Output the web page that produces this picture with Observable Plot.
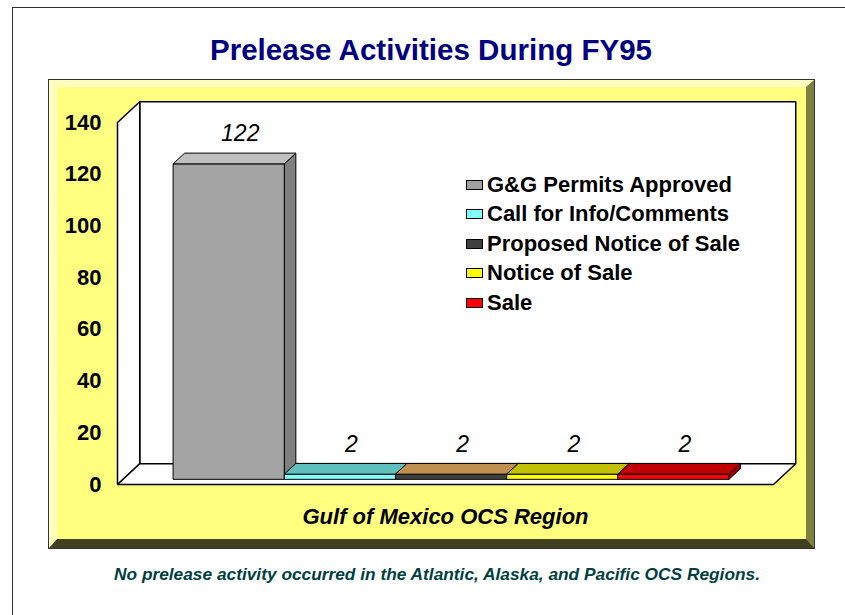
<!DOCTYPE html>
<html>
<head>
<meta charset="utf-8">
<script src="https://cdn.jsdelivr.net/npm/d3@7"></script>
<script src="https://cdn.jsdelivr.net/npm/@observablehq/plot@0.6"></script>
<style>
  html, body { margin: 0; padding: 0; background: #fff; }
  #page { position: relative; width: 845px; height: 615px; overflow: hidden; background: #fff;
          font-family: "Liberation Sans", Arial, sans-serif; }
  #slide { position: absolute; left: 12px; top: 7px; width: 900px; height: 700px; border: 1px solid #333; box-sizing: border-box; }
  #frame { position: absolute; left: 49px; top: 80px; width: 765px; height: 468px; box-sizing: border-box;
           background: #FFFF80; border-top: 7px solid #FFFFC0; border-left: 8px solid #FFFFC0;
           border-right: 8px solid #808040; border-bottom: 9px solid #404020; outline: 1px solid #333; }
  #titles { position: absolute; left: 0; top: 0; }
  #chart { position: absolute; left: 0; top: 0; }
  #legend { position: absolute; left: 466px; top: 170px; }
  .row { height: 29.5px; display: flex; align-items: center; font-weight: bold; font-size: 22px; color: #000; white-space: nowrap; }
  .sw { width: 15px; height: 8px; border: 1px solid #000; margin-right: 4px; }
</style>
</head>
<body>
<div id="page">
  <div id="slide"></div>
  <div id="frame"></div>
  <svg id="titles" width="845" height="615"></svg>
  <div id="chart"></div>
  <div id="legend"></div>
</div>
<script>
// ---- data ----
const categories = ["G&G Permits Approved", "Call for Info/Comments", "Proposed Notice of Sale", "Notice of Sale", "Sale"];
const values = [122, 2, 2, 2, 2];
const yTicks = [0, 20, 40, 60, 80, 100, 120, 140];
const regionLabel = "Gulf of Mexico OCS Region";
const titleText = "Prelease Activities During FY95";
const captionText = "No prelease activity occurred in the Atlantic, Alaska, and Pacific OCS Regions.";

// ---- styles ----
const frontColors = ["#A4A4A4", "#80FFFF", "#404040", "#FFFF00", "#FF0000"];
const topColors   = ["#C0C0C0", "#60C0C0", "#C09050", "#C0C000", "#C00000"];
const sideColors  = ["#808080", "#40A0A0", "#303030", "#A0A000", "#A00000"];
const legendColors = ["#A0A0A0", "#80FFFF", "#404040", "#FFFF00", "#FF0000"];
const FONT = '"Liberation Sans", Arial, sans-serif';

// 3-D box geometry in data units
const X0 = -0.45, X1 = categories.length + 0.45, YMAX = 140;
const DX = 0.2, DY = 8;        // full depth offset
const D0 = 0.25, D1 = 0.77;    // bar depth band

function pt(face, fill, x, y, d) { return {face, fill, x: x + d * DX, y: y + d * DY}; }
function poly(face, fill, pts) {
  const out = pts.map(([x, y, d]) => pt(face, fill, x, y, d));
  out.push({...out[0]});
  return out;
}

const walls = [
  ...poly("back", "#FFFFFF", [[X0, 0, 1], [X1, 0, 1], [X1, YMAX, 1], [X0, YMAX, 1]]),
  ...poly("left", "#FFFFFF", [[X0, 0, 0], [X0, YMAX, 0], [X0, YMAX, 1], [X0, 0, 1]]),
  ...poly("floor", "#FFFFFF", [[X0, 0, 0], [X1, 0, 0], [X1, 0, 1], [X0, 0, 1]])
];

const barFaces = [];
values.forEach((v, i) => {
  barFaces.push(...poly("side" + i, sideColors[i], [[i + 1, 0, D0], [i + 1, v, D0], [i + 1, v, D1], [i + 1, 0, D1]]));
  barFaces.push(...poly("front" + i, frontColors[i], [[i, 0, D0], [i + 1, 0, D0], [i + 1, v, D0], [i, v, D0]]));
  barFaces.push(...poly("top" + i, topColors[i], [[i, v, D0], [i + 1, v, D0], [i + 1, v, D1], [i, v, D1]]));
});

const labels = values.map((v, i) => ({x: i + 0.5 + D1 * DX, y: v + D1 * DY, text: String(v)}));

const chart = Plot.plot({
  width: 845,
  height: 560,
  marginLeft: 117,
  marginRight: 72,
  marginTop: 122,
  marginBottom: 76,
  style: {background: "transparent", fontFamily: FONT, fontSize: "22px", fontWeight: "bold", color: "#000", overflow: "visible"},
  x: {domain: [X0, X1], axis: null},
  y: {domain: [0, YMAX], ticks: yTicks, tickSize: 0, tickPadding: 16, label: null, tickFormat: d => String(d)},
  color: {type: "identity"},
  marks: [
    Plot.line(walls, {x: "x", y: "y", z: "face", fill: "fill", stroke: "#000", strokeWidth: 1.5, strokeLinejoin: "miter", strokeLinecap: "butt"}),
    Plot.line(barFaces, {x: "x", y: "y", z: "face", fill: "fill", stroke: "#000", strokeWidth: 1, strokeLinejoin: "miter", strokeLinecap: "butt"}),
    Plot.text(labels, {x: "x", y: "y", text: "text", dy: -19, fontSize: 23, fontStyle: "italic", fontWeight: "normal", fontFamily: FONT, fill: "#000", lineAnchor: "middle"}),
    Plot.text([regionLabel], {frameAnchor: "bottom", text: d => d, dy: 32, lineAnchor: "middle", fontSize: 22, fontStyle: "italic", fontWeight: "bold", fontFamily: FONT, fill: "#000"})
  ]
});
document.getElementById("chart").appendChild(chart);

// titles (real text)
const t = d3.select("#titles");
t.append("text").attr("x", 210).attr("y", 60).attr("textLength", 442).attr("lengthAdjust", "spacingAndGlyphs")
  .attr("font-family", FONT).attr("font-weight", "bold").attr("font-size", 30).attr("fill", "#000080").text(titleText);
t.append("text").attr("x", 114).attr("y", 580).attr("textLength", 646).attr("lengthAdjust", "spacingAndGlyphs")
  .attr("font-family", FONT).attr("font-weight", "bold").attr("font-style", "italic").attr("font-size", 17).attr("fill", "#004040").text(captionText);

// legend
const legend = d3.select("#legend");
categories.forEach((c, i) => {
  const row = legend.append("div").attr("class", "row");
  row.append("div").attr("class", "sw").style("background", legendColors[i]);
  row.append("span").text(c);
});
</script>
</body>
</html>
